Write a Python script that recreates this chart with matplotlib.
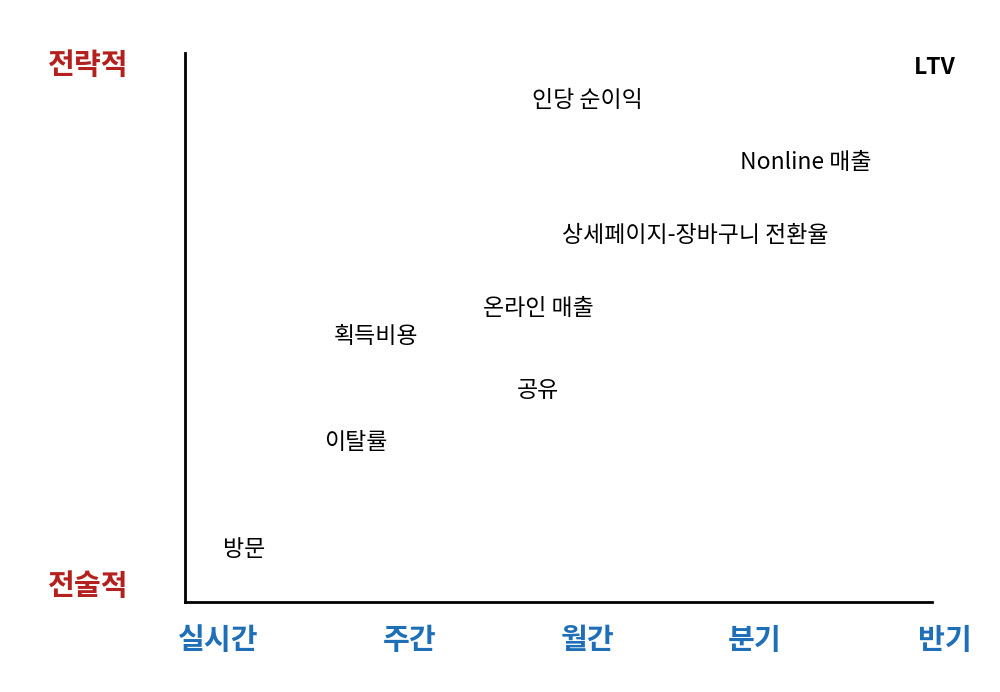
import matplotlib
matplotlib.use("Agg")
import matplotlib.pyplot as plt

plt.rcParams['font.family'] = ['Noto Sans CJK KR', 'DejaVu Sans']

# items on a 0-100 grid (x: time horizon, y: tactical -> strategic)
labels = ["LTV", "인당 순이익", "Nonline 매출", "상세페이지-장바구니 전환율",
          "온라인 매출", "획득비용", "공유", "이탈률", "방문"]
xs = [100.4, 53.9, 83.1, 68.3, 47.3, 25.6, 47.3, 22.9, 7.9]
ys = [97.3, 91.4, 80.0, 66.7, 53.4, 48.3, 38.6, 29.1, 9.5]

x_ticks = ["실시간", "주간", "월간", "분기", "반기"]
x_tick_pos = [4.4, 30.1, 53.9, 76.3, 101.7]
y_ticks = ["전술적", "전략적"]
y_tick_pos = [3.0, 97.8]

fig = plt.figure(figsize=(10, 6.92), dpi=100)
ax = fig.add_axes([0.185, 1 - 602 / 692, 0.747, 549 / 692])
ax.set_xlim(0, 100)
ax.set_ylim(0, 100)
for s in ["top", "right"]:
    ax.spines[s].set_visible(False)
for s in ["left", "bottom"]:
    ax.spines[s].set_linewidth(2)
ax.set_xticks([])
ax.set_yticks([])

for t, x, y in zip(labels, xs, ys):
    w = "bold" if t == "LTV" else "normal"
    ax.text(x, y, t, ha="center", va="center", fontsize=16.5, fontweight=w, clip_on=False)

for t, x in zip(x_ticks, x_tick_pos):
    ax.text(x, -7, t, ha="center", va="center", fontsize=21, fontweight="bold",
            color="#1f6fb8", clip_on=False)

for t, y in zip(y_ticks, y_tick_pos):
    ax.text(-13, y, t, ha="center", va="center",
            fontsize=21, fontweight="bold", color="#b3201e", clip_on=False)

fig.savefig("out.png", dpi=100)
